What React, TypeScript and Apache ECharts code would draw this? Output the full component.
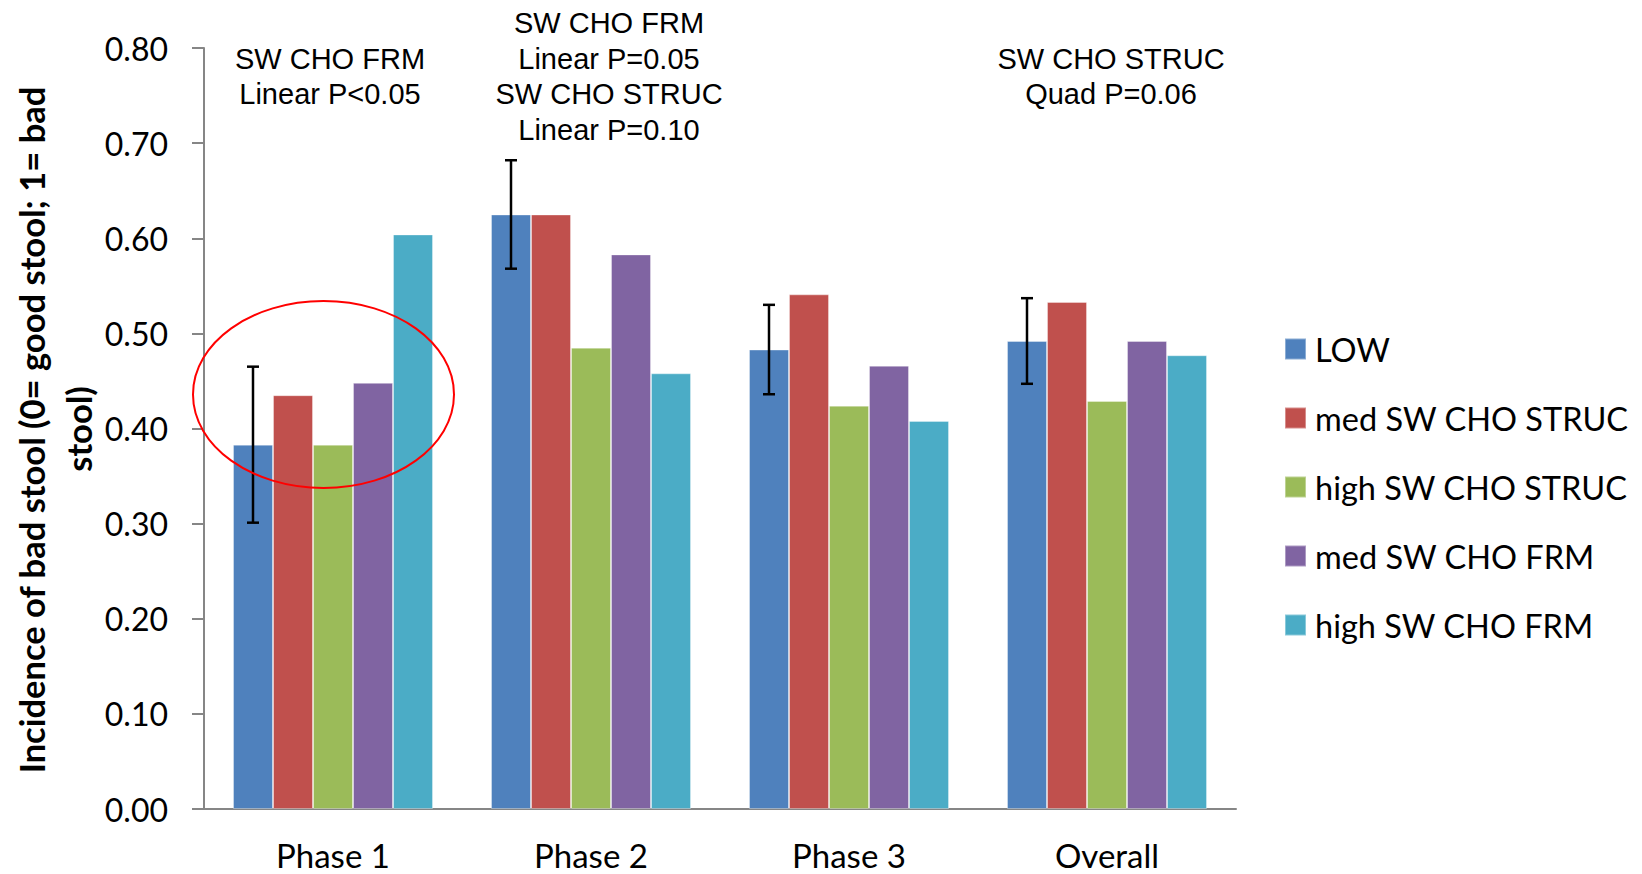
import React, { useEffect, useRef } from "react";
import * as echarts from "echarts";

const categories = ["Phase 1", "Phase 2", "Phase 3", "Overall"];
const seriesNames = [
  "LOW",
  "med SW CHO STRUC",
  "high SW CHO STRUC",
  "med SW CHO FRM",
  "high SW CHO FRM",
];
const lowValues = [0.383, 0.625, 0.483, 0.492];
const medStrucValues = [0.435, 0.625, 0.541, 0.533];
const highStrucValues = [0.383, 0.485, 0.424, 0.429];
const medFrmValues = [0.448, 0.583, 0.466, 0.492];
const highFrmValues = [0.604, 0.458, 0.408, 0.477];
const lowSE = [0.082, 0.057, 0.047, 0.045];
const yTicks = [0, 0.1, 0.2, 0.3, 0.4, 0.5, 0.6, 0.7, 0.8];

const annotations = [
  { x: 330, lines: ["SW CHO FRM", "Linear P<0.05"], top: 58.6 },
  {
    x: 609,
    lines: ["SW CHO FRM", "Linear P=0.05", "SW CHO STRUC", "Linear P=0.10"],
    top: 23,
  },
  { x: 1111, lines: ["SW CHO STRUC", "Quad P=0.06"], top: 58.6 },
];

const colors = ["#4F81BD", "#C0504D", "#9BBB59", "#8064A2", "#4BACC6"];
const BAR_W = 40;
const LABEL_FONT = "Lato, 'Noto Sans', sans-serif";

export default function App() {
  const ref = useRef<HTMLDivElement>(null);
  useEffect(() => {
    if (!ref.current) return;
    const chart = echarts.init(ref.current, undefined, { renderer: "svg" });
    const allValues = [lowValues, medStrucValues, highStrucValues, medFrmValues, highFrmValues];

    const barSeries = seriesNames.map((name, i) => ({
      name,
      type: "bar",
      data: allValues[i],
      barWidth: BAR_W,
      barGap: "0%",
      itemStyle: { color: colors[i], borderColor: "rgba(255,255,255,0.35)", borderWidth: 1 },
      z: 2,
    }));

    const errSeries = {
      name: "err",
      type: "custom",
      z: 5,
      data: categories.map((_, i) => [i, lowValues[i], lowSE[i]]),
      encode: { x: 0, y: 1 },
      renderItem: (params: any, api: any) => {
        const idx = api.value(0);
        const mean = api.value(1);
        const se = api.value(2);
        const top = api.coord([idx, mean + se]);
        const bot = api.coord([idx, mean - se]);
        const x = top[0] - 2 * BAR_W;
        const cap = 6;
        const st = { stroke: "#000", lineWidth: 2.5 };
        return {
          type: "group",
          children: [
            { type: "line", shape: { x1: x, y1: top[1], x2: x, y2: bot[1] }, style: st },
            { type: "line", shape: { x1: x - cap, y1: top[1], x2: x + cap, y2: top[1] }, style: st },
            { type: "line", shape: { x1: x - cap, y1: bot[1], x2: x + cap, y2: bot[1] }, style: st },
          ],
        };
      },
    };

    const graphics: any[] = [];
    annotations.forEach((a) => {
      a.lines.forEach((ln, j) => {
        graphics.push({
          type: "text",
          x: a.x,
          y: a.top + j * 35.6,
          style: {
            text: ln,
            fill: "#000",
            font: "29px 'Liberation Sans', Arial, sans-serif",
            textAlign: "center",
            textVerticalAlign: "middle",
          },
          z: 10,
        });
      });
    });
    graphics.push({
      type: "text",
      x: 31,
      y: 430,
      rotation: Math.PI / 2,
      style: {
        text: "Incidence of bad stool (0= good stool; 1= bad",
        fill: "#000",
        font: "bold 34.5px " + LABEL_FONT,
        textAlign: "center",
        textVerticalAlign: "middle",
      },
    });
    graphics.push({
      type: "text",
      x: 78.5,
      y: 429,
      rotation: Math.PI / 2,
      style: {
        text: "stool)",
        fill: "#000",
        font: "bold 34.5px " + LABEL_FONT,
        textAlign: "center",
        textVerticalAlign: "middle",
      },
    });
    graphics.push({
      type: "ellipse",
      shape: { cx: 323.5, cy: 394.5, rx: 130.5, ry: 93.5 },
      style: { fill: "none", stroke: "#FF0000", lineWidth: 2 },
      z: 20,
    });

    chart.setOption({
      animation: false,
      backgroundColor: "#fff",
      grid: { left: 204, right: 406, top: 48, bottom: 65, containLabel: false },
      legend: {
        data: seriesNames,
        orient: "vertical",
        left: 1284,
        top: 331,
        padding: 0,
        itemWidth: 21,
        itemHeight: 21,
        itemGap: 33,
        icon: "rect",
        textStyle: { fontFamily: LABEL_FONT, fontSize: 32.5, color: "#000", lineHeight: 36, padding: [0, 0, 0, 4] },
      },
      xAxis: {
        type: "category",
        data: categories,
        axisLine: { lineStyle: { color: "#868686", width: 2 } },
        axisTick: { show: false },
        axisLabel: { color: "#000", fontFamily: LABEL_FONT, fontSize: 33, lineHeight: 33, margin: 29 },
      },
      yAxis: {
        type: "value",
        min: 0,
        max: 0.8,
        interval: 0.1,
        splitLine: { show: false },
        axisLine: { show: true, lineStyle: { color: "#868686", width: 2 } },
        axisTick: { show: true, length: 12, lineStyle: { color: "#868686", width: 2 } },
        axisLabel: {
          color: "#000",
          fontFamily: LABEL_FONT,
          fontSize: 32,
          margin: 36,
          formatter: (v: number) => (yTicks.some((t) => Math.abs(t - v) < 1e-9) ? v.toFixed(2) : ""),
        },
      },
      series: [...barSeries, errSeries],
      graphic: graphics,
    });
    return () => chart.dispose();
  }, []);
  return (
    <div
      ref={ref}
      style={{ position: "absolute", left: 0, top: 0, width: 1642, height: 874, background: "#fff" }}
    />
  );
}
